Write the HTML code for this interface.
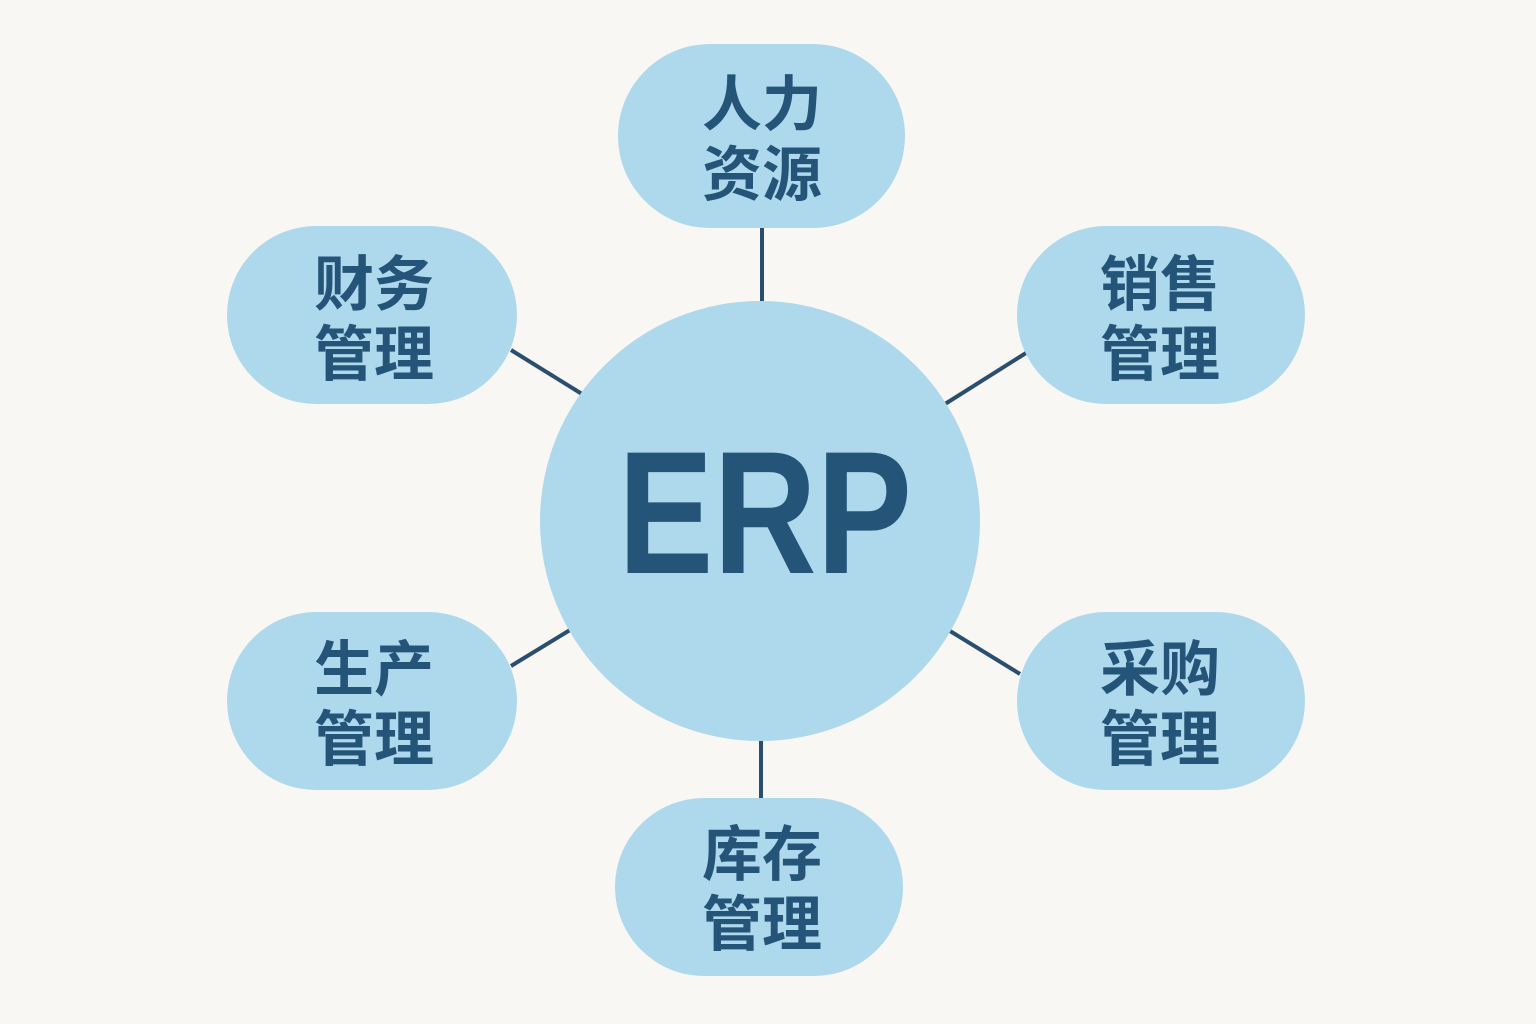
<!DOCTYPE html>
<html><head><meta charset="utf-8"><style>
html,body{margin:0;padding:0;background:#f8f7f3;}
svg{display:block}
.c{font-family:"Liberation Sans","Noto Sans CJK SC",sans-serif;font-weight:700;font-size:60px;fill:#245478;}
</style></head><body>
<svg width="1536" height="1024" viewBox="0 0 1536 1024">
<rect width="1536" height="1024" fill="#f8f7f3"/>
<g stroke="#2a4f6e" stroke-width="4">
<line x1="762" y1="226" x2="762" y2="305"/>
<line x1="511" y1="350" x2="582" y2="394"/>
<line x1="1026" y1="353" x2="945" y2="404"/>
<line x1="511" y1="666" x2="570" y2="630"/>
<line x1="950" y1="631" x2="1020" y2="674"/>
<line x1="761" y1="738" x2="761" y2="800"/>
</g>
<g fill="#aed8ec">
<circle cx="760" cy="521" r="220"/>
<rect x="618" y="44" width="287" height="184" rx="92"/>
<rect x="227" y="226" width="290" height="178" rx="89"/>
<rect x="1017" y="226" width="288" height="178" rx="89"/>
<rect x="227" y="612" width="290" height="178" rx="89"/>
<rect x="1017" y="612" width="288" height="178" rx="89"/>
<rect x="615" y="798" width="288" height="178" rx="89"/>
</g>
<text x="618" y="573" textLength="294" lengthAdjust="spacingAndGlyphs" style="font-family:'Liberation Sans',sans-serif;font-weight:700;font-size:175px;fill:#245478">ERP</text>
<g class="c" text-anchor="middle" dominant-baseline="central">
<text x="762" y="105">人力</text><text x="762" y="175">资源</text>
<text x="374" y="285">财务</text><text x="374" y="355">管理</text>
<text x="1160" y="285">销售</text><text x="1160" y="355">管理</text>
<text x="374" y="670">生产</text><text x="374" y="740">管理</text>
<text x="1160" y="670">采购</text><text x="1160" y="740">管理</text>
<text x="762" y="855">库存</text><text x="762" y="925">管理</text>
</g>
</svg>
</body></html>
